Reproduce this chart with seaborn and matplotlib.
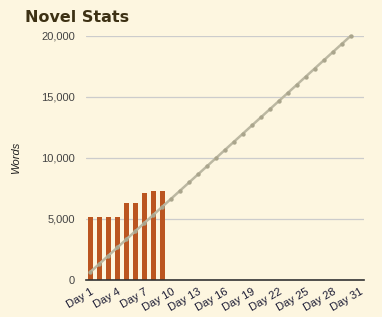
import matplotlib
matplotlib.use("Agg")
import matplotlib.pyplot as plt
import seaborn as sns
import pandas as pd
from matplotlib.ticker import FuncFormatter

days = [f"Day {i}" for i in range(1, 32)]
written_days = ["Day 1", "Day 2", "Day 3", "Day 4", "Day 5", "Day 6", "Day 7", "Day 8", "Day 9"]
written_words = [5200, 5200, 5200, 5200, 6300, 6300, 7150, 7300, 7300]
target_days = [f"Day {i}" for i in range(1, 31)]
target_words = [667, 1333, 2000, 2667, 3333, 4000, 4667, 5333, 6000, 6667,
                7333, 8000, 8667, 9333, 10000, 10667, 11333, 12000, 12667, 13333,
                14000, 14667, 15333, 16000, 16667, 17333, 18000, 18667, 19333, 20000]
tick_labels = [f"Day {i}" for i in range(1, 32, 3)]
y_ticks = [0, 5000, 10000, 15000, 20000]

bg = "#fdf6e0"
sns.set_theme(style="white")
plt.rcParams["font.family"] = ["Liberation Sans", "DejaVu Sans"]

fig = plt.figure(figsize=(3.82, 3.17), dpi=100, facecolor=bg)
ax = fig.add_axes([86/382, 1-280/317, 278/382, 244/317], facecolor=bg)

bars = pd.DataFrame({"day": written_days, "words": written_words})
sns.barplot(data=bars, x="day", y="words", order=days, color="#bb5520",
            saturation=1, width=0.55, edgecolor="none", linewidth=0,
            ax=ax, zorder=2)

line = pd.DataFrame({"day": target_days, "words": target_words})
sns.pointplot(data=line, x="day", y="words", order=days, color="#bcb8a2",
              markers="o", markersize=1.8, linewidth=1.8, ax=ax, zorder=3)
for c in ax.collections:
    c.set_clip_on(False)
for l in ax.lines:
    l.set_clip_on(False)
    l.set_solid_capstyle("round")
    l.set_markerfacecolor("#aaa58c")
    l.set_markeredgecolor("#aaa58c")

ax.set_xlim(-0.5, 30.5)
ax.set_ylim(0, 20000)
ax.set_yticks(y_ticks)
ax.yaxis.set_major_formatter(FuncFormatter(lambda v, p: f"{int(v):,}"))
ax.grid(axis="y", color="#cccccc", linewidth=0.9, zorder=0)
ax.set_axisbelow(True)

ax.set_xticks([days.index(t) for t in tick_labels])
ax.set_xticklabels(tick_labels, rotation=30, ha="right", rotation_mode="anchor",
                   fontsize=8, color="#1a1a33")
ax.tick_params(axis="x", length=0, pad=5)
ax.tick_params(axis="y", length=0, pad=8, labelsize=8, labelcolor="#444444")

for s in ["top", "right", "left"]:
    ax.spines[s].set_visible(False)
ax.spines["bottom"].set_color("#333333")
ax.spines["bottom"].set_linewidth(1.2)
ax.spines["bottom"].set_zorder(5)

ax.set_xlabel("")
ax.set_ylabel("Words", fontsize=8, style="italic", color="#222222")
ax.yaxis.set_label_coords((21-86)/278, 0.5)

fig.text(25/382, 1-18/317, "Novel Stats", fontsize=11.5, fontweight="bold",
         color="#3d3114", va="center", ha="left", family="DejaVu Sans")

fig.savefig("out.png", dpi=100, facecolor=bg)
